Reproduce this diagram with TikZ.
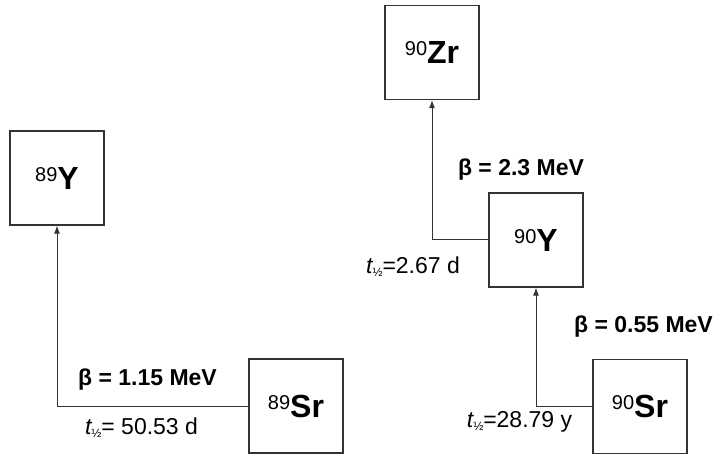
\documentclass[tikz,border=0pt]{standalone}
\usepackage{fontspec}
\setmainfont{Liberation Sans}
\usetikzlibrary{arrows.meta}

\newcommand{\nuclide}[2]{\raisebox{8pt}{\fontsize{20}{20}\selectfont #1}{\fontsize{32}{32}\selectfont\bfseries #2}}
\newcommand{\thalf}{{\itshape t}\raisebox{-3pt}{\fontsize{12}{12}\selectfont ½}}

\begin{document}
\begin{tikzpicture}[
    x=1pt, y=-1pt,
    isotope/.style={rectangle, draw=black!80, line width=1.2pt, minimum size=94pt, inner sep=0pt},
    decay/.style={draw=black!80, line width=1pt, -{Latex[length=8pt,width=6pt]}},
    energy/.style={font=\fontsize{23}{23}\selectfont\bfseries, inner sep=0pt},
    halflife/.style={font=\fontsize{23}{23}\selectfont, inner sep=0pt}
]
    \useasboundingbox (0,0) rectangle (723,457);

    % Sr-89 chain
    \node[isotope] (y89) at (57,178) {\nuclide{89}{Y}};
    \node[isotope] (sr89) at (296,406) {\nuclide{89}{Sr}};
    \draw[decay] (sr89.west) -| (y89.south);
    \node[energy] (e89) at (147.5,380) {β = 1.15 MeV};
    \node[halflife] (t89) at (141.5,428) {\thalf= 50.53 d};

    % Sr-90 chain
    \node[isotope] (zr90) at (432,52.5) {\nuclide{90}{Zr}};
    \node[isotope] (y90) at (536,240) {\nuclide{90}{Y}};
    \node[isotope] (sr90) at (640,406.5) {\nuclide{90}{Sr}};
    \draw[decay] (y90.west) -| (zr90.south);
    \draw[decay] (sr90.west) -| (y90.south);
    \node[energy] (ey90) at (521,170) {β = 2.3 MeV};
    \node[halflife] (ty90) at (413,267) {\thalf=2.67 d};
    \node[energy] (esr90) at (643.5,327) {β = 0.55 MeV};
    \node[halflife] (tsr90) at (519.5,422) {\thalf=28.79 y};
\end{tikzpicture}
\end{document}
